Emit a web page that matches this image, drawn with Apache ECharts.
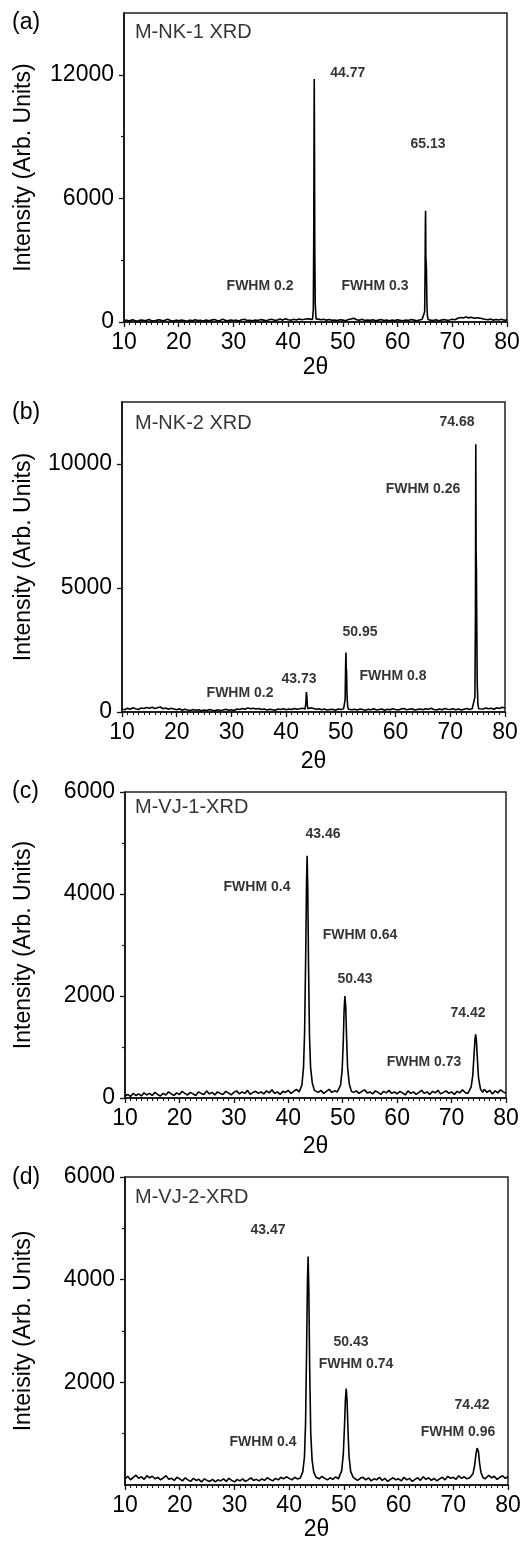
<!DOCTYPE html>
<html><head><meta charset="utf-8">
<script src="https://cdn.jsdelivr.net/npm/echarts@6/dist/echarts.min.js"></script>
<style>html,body{margin:0;padding:0;background:#fff}#c{width:525px;height:1543px}</style>
</head><body><div id="c"></div>
<script>
// ---------- DATA ----------
const xTicks = [10, 20, 30, 40, 50, 60, 70, 80];
const baseStart = 10, baseStep = 0.5; // 2θ of the background samples

// panel (a) M-NK-1
const baseA = [
  60, 90, 50, 110, 70, 40, 100, 80, 60, 120,
  70, 50, 90, 110, 60, 80, 130, 70, 50, 90,
  60, 100, 70, 40, 90, 60, 110, 70, 80, 50,
  100, 60, 90, 120, 70, 60, 140, 80, 60, 100,
  70, 90, 50, 110, 130, 70, 80, 60, 100, 70,
  120, 90, 60, 110, 130, 80, 100, 140, 90, 160,
  110, 90, 130, 100, 150, 110, 130, 160, 140, 180,
  170, 140, 110, 130, 90, 120, 80, 100, 70, 110,
  90, 60, 120, 150, 180, 110, 90, 130, 70, 100,
  80, 110, 60, 90, 120, 70, 100, 60, 90, 70,
  110, 80, 60, 100, 70, 120, 90, 60, 100, 130,
  150, 120, 90, 70, 110, 60, 90, 120, 80, 100,
  130, 110, 180, 220, 190, 240, 200, 230, 180, 210,
  190, 160, 130, 110, 140, 90, 120, 100, 130, 80,
  110
];
const peaksA = [
  [[44.45,120],[44.6,600],[44.68,4000],[44.74,10000],[44.77,11800],[44.81,9000],[44.87,3500],[44.95,900],[45.1,150]],
  [[64.8,120],[64.95,500],[65.03,2500],[65.08,4800],[65.12,5400],[65.17,3200],[65.22,2900],[65.28,2500],[65.36,900],[65.45,300],[65.6,120]]
];
const labelsA = [[50.9,12090,'44.77'],[65.56,8640,'65.13'],[34.86,1750,'FWHM 0.2'],[55.87,1750,'FWHM 0.3']];
const titleA = [12.0, 14030, 'M-NK-1 XRD'];

// panel (b) M-NK-2
const baseB = [
  120, 90, 150, 110, 170, 130, 100, 160, 140, 180,
  150, 190, 140, 170, 200, 130, 160, 110, 150, 120,
  90, 130, 70, 110, 80, 60, 100, 70, 90, 50,
  80, 60, 100, 70, 50, 90, 60, 80, 110, 70,
  90, 60, 120, 100, 140, 110, 160, 130, 150, 120,
  140, 100, 120, 80, 110, 90, 70, 120, 100, 130,
  90, 120, 100, 140, 110, 130, 150, 180, 200, 170,
  140, 110, 130, 90, 120, 80, 100, 110, 70, 120,
  100, 130, 150, 120, 90, 110, 80, 120, 100, 70,
  110, 90, 130, 80, 100, 120, 70, 110, 90, 130,
  100, 80, 120, 140, 90, 110, 130, 80, 100, 120,
  90, 130, 110, 150, 100, 80, 120, 90, 140, 110,
  100, 130, 90, 120, 80, 110, 140, 100, 130, 160,
  180, 140, 120, 160, 130, 150, 110, 170, 140, 190,
  160
];
const peaksB = [
  [[43.45,120],[43.6,350],[43.7,800],[43.78,650],[43.88,250],[44.0,130]],
  [[50.6,120],[50.78,500],[50.88,2000],[50.93,2400],[50.98,1800],[51.05,1600],[51.12,700],[51.25,200],[51.4,110]],
  [[74.3,120],[74.5,600],[74.6,4000],[74.66,10800],[74.72,6500],[74.78,5700],[74.84,3500],[74.92,1200],[75.05,300],[75.2,130]]
];
const labelsB = [[71.23,11690,'74.68'],[65.01,8990,'FWHM 0.26'],[53.5,3230,'50.95'],[59.53,1450,'FWHM 0.8'],[42.35,1330,'43.73'],[31.57,770,'FWHM 0.2']];
const titleB = [12.38, 11650, 'M-NK-2 XRD'];

// panel (c) M-VJ-1
const baseC = [
  40, 70, 30, 90, 50, 80, 40, 100, 60, 90,
  50, 110, 70, 40, 90, 60, 120, 80, 50, 100,
  70, 130, 90, 60, 110, 80, 50, 120, 90, 70,
  140, 80, 110, 60, 120, 90, 70, 130, 100, 60,
  110, 140, 80, 120, 90, 150, 70, 110, 130, 90,
  120, 80, 140, 100, 160, 90, 120, 70, 130, 110,
  150, 90, 130, 170, 120, 160, 200, 200, 200, 200,
  160, 110, 150, 90, 130, 170, 110, 140, 120, 100,
  100, 100, 100, 150, 110, 140, 90, 130, 160, 100,
  120, 80, 140, 110, 70, 130, 100, 150, 90, 120,
  80, 130, 100, 60, 140, 90, 120, 70, 110, 150,
  90, 120, 70, 130, 100, 150, 80, 110, 140, 90,
  120, 70, 130, 100, 160, 110, 90, 100, 100, 100,
  100, 130, 170, 110, 150, 80, 140, 100, 160, 120,
  90
];
const peaksC = [
  [[42.0,100],[42.5,250],[42.8,600],[43.0,1300],[43.2,2800],[43.35,4200],[43.46,4750],[43.58,4100],[43.72,2600],[43.9,1200],[44.1,600],[44.4,300],[44.8,150]],
  [[49.2,100],[49.6,250],[49.9,550],[50.1,1100],[50.25,1700],[50.4,2000],[50.55,1800],[50.72,1150],[50.9,600],[51.2,280],[51.6,130]],
  [[73.2,100],[73.6,220],[73.9,450],[74.1,800],[74.3,1150],[74.42,1250],[74.55,1150],[74.75,750],[74.95,400],[75.3,180],[75.7,110]]
];
const labelsC = [[46.38,5180,'43.46'],[34.25,4140,'FWHM 0.4'],[53.18,3200,'FWHM 0.64'],[52.26,2330,'50.43'],[73.02,1670,'74.42'],[64.93,710,'FWHM 0.73']];
const titleC = [11.84, 5690, 'M-VJ-1-XRD'];

// panel (d) M-VJ-2
const baseD = [
  120, 170, 100, 150, 190, 130, 160, 110, 180, 140,
  170, 120, 150, 100, 140, 180, 110, 130, 90, 150,
  120, 80, 140, 100, 70, 130, 90, 110, 60, 120,
  90, 70, 110, 60, 100, 80, 120, 70, 130, 90,
  60, 110, 80, 120, 70, 100, 140, 90, 110, 80,
  120, 90, 140, 110, 80, 130, 100, 150, 120, 160,
  130, 100, 150, 120, 130, 200, 200, 200, 200, 200,
  150, 120, 170, 130, 100, 140, 110, 160, 120, 130,
  140, 140, 140, 110, 160, 90, 130, 150, 100, 140,
  80, 120, 100, 150, 90, 130, 70, 110, 140, 100,
  120, 80, 150, 100, 130, 70, 110, 140, 90, 160,
  110, 140, 90, 130, 80, 120, 150, 100, 170, 130,
  150, 110, 180, 130, 160, 120, 140, 140, 140, 140,
  140, 160, 120, 190, 140, 170, 110, 150, 180, 130,
  160
];
const peaksD = [
  [[42.0,130],[42.5,260],[42.8,550],[43.0,1200],[43.2,2700],[43.35,4000],[43.47,4450],[43.6,3800],[43.75,2300],[43.95,1000],[44.2,480],[44.5,250],[44.9,150]],
  [[49.2,130],[49.6,280],[49.9,600],[50.1,1100],[50.28,1650],[50.43,1880],[50.58,1650],[50.76,1050],[50.95,550],[51.25,260],[51.7,150]],
  [[73.2,130],[73.6,220],[73.9,380],[74.15,600],[74.35,720],[74.45,740],[74.6,650],[74.8,430],[75.05,250],[75.4,150],[75.8,120]]
];
const labelsD = [[36.14,4970,'43.47'],[51.3,2790,'50.43'],[52.22,2360,'FWHM 0.74'],[73.42,1560,'74.42'],[70.86,1030,'FWHM 0.96'],[35.22,840,'FWHM 0.4']];
const titleD = [11.83, 5610, 'M-VJ-2-XRD'];

// y axes: max, labelled ticks, minor ticks, axis names
const yMaxList = [15000, 12500, 6000, 6000];
const yLabelList = [[0, 6000, 12000], [0, 5000, 10000], [0, 2000, 4000, 6000], [2000, 4000, 6000]];
const yMinorList = [[3000, 9000], [], [1000, 3000, 5000], [1000, 3000, 5000]];
const yNames = ['Intensity (Arb. Units)', 'Intensity (Arb. Units)', 'Intensity (Arb. Units)', 'Inteisity (Arb. Units)'];
const xName = '2θ';
const panelTags = ['(a)', '(b)', '(c)', '(d)'];

// ---------- LAYOUT ----------
const grids = [
  {left: 124, top: 13, width: 383, height: 309},
  {left: 122, top: 402, width: 383, height: 310},
  {left: 125, top: 792, width: 381, height: 306},
  {left: 125, top: 1177, width: 383, height: 308}
];
const xNameGaps = [34, 38, 37, 31];
const yNameGaps = [89, 87, 90, 90];
const tagPos = [[12, 11], [12, 401], [12, 780], [12, 1166]];

const FONT = '"Liberation Sans", Arial, sans-serif';
const INK = '#000';

function buildData(base, peaks) {
  const pts = [];
  base.forEach((v, i) => {
    const x = baseStart + i * baseStep;
    if (!peaks.some(p => x > p[0][0] && x < p[p.length - 1][0])) pts.push([x, v]);
  });
  peaks.forEach(p => p.forEach(q => pts.push(q)));
  pts.sort((a, b) => a[0] - b[0]);
  return pts;
}

const bases = [baseA, baseB, baseC, baseD];
const peaks = [peaksA, peaksB, peaksC, peaksD];
const labels = [labelsA, labelsB, labelsC, labelsD];
const titles = [titleA, titleB, titleC, titleD];

const option = {
  animation: false,
  backgroundColor: '#fff',
  textStyle: {fontFamily: FONT},
  grid: grids.map(g => Object.assign({show: true, borderColor: '#222', borderWidth: 1.5, backgroundColor: 'transparent'}, g)),
  xAxis: [], yAxis: [], series: [], graphic: []
};

for (let i = 0; i < 4; i++) {
  option.xAxis.push({
    type: 'value', gridIndex: i, min: xTicks[0], max: xTicks[xTicks.length - 1], interval: 10,
    name: xName, nameLocation: 'middle', nameGap: xNameGaps[i],
    nameTextStyle: {fontSize: 23, color: INK, fontFamily: FONT},
    axisLine: {show: true, onZero: false, lineStyle: {color: '#111', width: 1.6}},
    axisTick: {show: true, length: 5, lineStyle: {color: '#111', width: 1.3}},
    minorTick: {show: true, splitNumber: 10, length: 3, lineStyle: {color: '#111', width: 1}},
    splitLine: {show: false},
    axisLabel: {fontSize: 23, color: INK, margin: 9, fontFamily: FONT, formatter: v => String(v)}
  });
  // main y axis (labels + major ticks)
  option.yAxis.push({
    type: 'value', gridIndex: i, position: 'left', min: 0, max: yMaxList[i],
    name: yNames[i], nameLocation: 'middle', nameGap: yNameGaps[i], nameRotate: 90,
    nameTextStyle: {fontSize: 23, color: INK, fontFamily: FONT},
    axisLine: {show: true, lineStyle: {color: '#111', width: 1.6}},
    axisTick: {show: true, length: 5, customValues: yLabelList[i], lineStyle: {color: '#111', width: 1.3}},
    axisLabel: {fontSize: 23, color: INK, margin: 10, customValues: yLabelList[i], fontFamily: FONT, formatter: v => String(v)},
    splitLine: {show: false}
  });
  // minor y ticks
  option.yAxis.push({
    type: 'value', gridIndex: i, position: 'left', offset: 0, min: 0, max: yMaxList[i],
    axisLine: {show: false},
    axisTick: {show: yMinorList[i].length > 0, length: 3, customValues: yMinorList[i].length ? yMinorList[i] : [0], lineStyle: {color: '#111', width: 1.2}},
    axisLabel: {show: false},
    splitLine: {show: false}
  });
  option.series.push({
    type: 'line', xAxisIndex: i, yAxisIndex: 2 * i,
    data: buildData(bases[i], peaks[i]),
    showSymbol: false, symbol: 'none', clip: true,
    lineStyle: {color: '#000', width: 1.6}
  });
  option.series.push({
    type: 'scatter', xAxisIndex: i, yAxisIndex: 2 * i, symbolSize: 0, silent: true,
    data: labels[i].map(l => ({value: [l[0], l[1]], label: {formatter: l[2]}})),
    label: {show: true, position: 'inside', fontSize: 14, fontWeight: 'bold', color: '#000', fontFamily: FONT}
  });
  option.series.push({
    type: 'scatter', xAxisIndex: i, yAxisIndex: 2 * i, symbolSize: 0, silent: true,
    data: [{value: [titles[i][0], titles[i][1]], label: {formatter: titles[i][2]}}],
    label: {show: true, position: 'inside', align: 'left', fontSize: 20, color: '#000', fontFamily: FONT}
  });
  option.graphic.push({
    type: 'text', left: tagPos[i][0], top: tagPos[i][1],
    style: {text: panelTags[i], font: '23px ' + FONT, fill: '#000'}
  });
}

const chart = echarts.init(document.getElementById('c'), null, {renderer: 'canvas'});
chart.setOption(option);
</script>
</body></html>
